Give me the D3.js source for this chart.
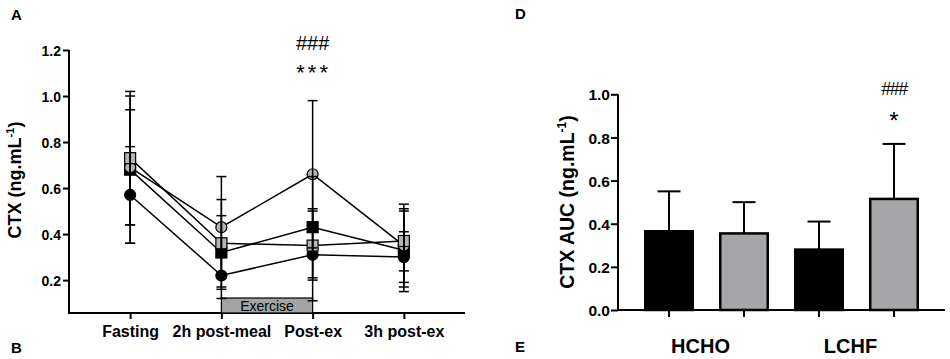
<!DOCTYPE html>
<html>
<head>
<meta charset="utf-8">
<script src="https://cdn.jsdelivr.net/npm/d3@7"></script>
<style>
  body { margin: 0; background: #fff; }
  svg { font-family: "Liberation Sans", Arial, sans-serif; }
</style>
</head>
<body>
<svg id="chart" width="950" height="359"></svg>
<script>
// ---- data ----
var timepoints = ["Fasting", "2h post-meal", "Post-ex", "3h post-ex"];
var yTicksA = [0.2, 0.4, 0.6, 0.8, 1.0, 1.2];

var blackCircleMean = [0.57, 0.22, 0.31, 0.30];
var blackCircleSd   = [0.21, 0.10, 0.20, 0.11];
var blackSquareMean = [0.68, 0.32, 0.43, 0.33];
var blackSquareSd   = [0.32, 0.16, 0.22, 0.18];
var grayCircleMean  = [0.69, 0.43, 0.66, 0.35];
var grayCircleSd    = [0.25, 0.22, 0.32, 0.18];
var graySquareMean  = [0.73, 0.36, 0.35, 0.37];
var graySquareSd    = [0.29, 0.19, 0.15, 0.13];

var groups = ["HCHO", "LCHF"];
var barKeys = ["HCHO-a", "HCHO-b", "LCHF-a", "LCHF-b"];
var barValues = [0.365, 0.355, 0.28, 0.515];
var barUpper  = [0.55, 0.50, 0.41, 0.77];
var yTicksD = [0.0, 0.2, 0.4, 0.6, 0.8, 1.0];

var svg = d3.select("#chart");
var gray = "#b4b4b6";
var barGray = "#a6a6a9";

// panel letters
[["A", 11, 20], ["B", 11, 353], ["D", 515, 19], ["E", 515, 352]].forEach(function(p) {
	svg.append("text").attr("x", p[1]).attr("y", p[2])
		.style("font-size", "15px").style("font-weight", "bold").text(p[0]);
});

// ================= panel A =================
var xA = d3.scalePoint().domain(timepoints).range([69, 465]).padding(0.67);
var yA = d3.scaleLinear().domain([0.057, 1.2]).range([313, 50]);

var gA = svg.append("g");

var yAxisA = d3.axisLeft(yA).tickValues(yTicksA).tickSize(6).tickFormat(d3.format(".1f"));
var ay = gA.append("g").attr("transform", "translate(69,0)").call(yAxisA);
ay.select(".domain").remove();
ay.append("line").attr("x1", 0).attr("x2", 0).attr("y1", yA(1.2)).attr("y2", 313)
	.attr("stroke", "#000").attr("stroke-width", 2);
ay.selectAll(".tick line").attr("stroke-width", 2);
ay.selectAll(".tick text").attr("x", -8).attr("dy", "0.36em")
	.style("font-size", "14px").style("font-weight", "bold").attr("fill", "#000");

var xAxisA = d3.axisBottom(xA).tickSize(6).tickSizeOuter(0);
var ax = gA.append("g").attr("transform", "translate(0,313)").call(xAxisA);
ax.select(".domain").remove();
ax.append("line").attr("x1", 68).attr("x2", 465).attr("y1", 0).attr("y2", 0)
	.attr("stroke", "#000").attr("stroke-width", 2);
ax.selectAll(".tick line").attr("stroke-width", 2);
ax.selectAll(".tick text").attr("y", 13).attr("dy", "0.71em")
	.style("font-size", "16px").style("font-weight", "bold").attr("fill", "#000");

gA.append("text")
	.attr("transform", "translate(21,180)rotate(-90)")
	.attr("text-anchor", "middle")
	.style("font-size", "18px").style("font-weight", "bold")
	.html('CTX (ng.mL<tspan dy="-7" style="font-size:11px">-1</tspan><tspan dy="7">)</tspan>');

// exercise box
var exX0 = xA("2h post-meal"), exX1 = xA("Post-ex");
gA.append("rect").attr("x", exX0).attr("y", 298).attr("width", exX1 - exX0).attr("height", 15)
	.attr("fill", "#a3a3a5").attr("stroke", "#000").attr("stroke-width", 1.2);
gA.append("text").attr("x", (exX0 + exX1) / 2).attr("y", 310.5).attr("text-anchor", "middle")
	.style("font-size", "14px").text("Exercise");

var seriesA = [
	{ mean: blackCircleMean, sd: blackCircleSd, shape: "circle", fill: "#000" },
	{ mean: blackSquareMean, sd: blackSquareSd, shape: "square", fill: "#000" },
	{ mean: grayCircleMean,  sd: grayCircleSd,  shape: "circle", fill: gray },
	{ mean: graySquareMean,  sd: graySquareSd,  shape: "square", fill: gray }
];

var line = d3.line().x(function(d, i) { return xA(timepoints[i]); }).y(function(d) { return yA(d); });

seriesA.forEach(function(s) {
	gA.append("path").attr("d", line(s.mean)).attr("fill", "none")
		.attr("stroke", "#000").attr("stroke-width", 1.5);
});

seriesA.forEach(function(s) {
	s.mean.forEach(function(m, i) {
		var cx = xA(timepoints[i]), cy = yA(m);
		if (s.shape === "circle") {
			gA.append("circle").attr("cx", cx).attr("cy", cy).attr("r", 5.5)
				.attr("fill", s.fill).attr("stroke", "#000").attr("stroke-width", 1.2);
		} else {
			gA.append("rect").attr("x", cx - 5.5).attr("y", cy - 5.5).attr("width", 11).attr("height", 11)
				.attr("fill", s.fill).attr("stroke", "#000").attr("stroke-width", 1.2);
		}
	});
});

// error bars on top
seriesA.forEach(function(s) {
	s.mean.forEach(function(m, i) {
		var cx = xA(timepoints[i]);
		var hi = yA(m + s.sd[i]), lo = yA(m - s.sd[i]);
		gA.append("line").attr("x1", cx).attr("x2", cx).attr("y1", hi).attr("y2", lo)
			.attr("stroke", "#000").attr("stroke-width", 1.5);
		[hi, lo].forEach(function(y) {
			gA.append("line").attr("x1", cx - 5).attr("x2", cx + 5).attr("y1", y).attr("y2", y)
				.attr("stroke", "#000").attr("stroke-width", 1.5);
		});
	});
});

gA.append("text").attr("x", xA("Post-ex")).attr("y", 50).attr("text-anchor", "middle")
	.style("font-size", "20px").text("###");
gA.append("text").attr("x", xA("Post-ex") + 1).attr("y", 80).attr("text-anchor", "middle")
	.style("font-size", "22px").style("letter-spacing", "3px").text("***");

// ================= panel D =================
var xD = d3.scaleBand().domain(barKeys).range([618, 945]).paddingInner(0.34).paddingOuter(0.35);
var yD = d3.scaleLinear().domain([0, 1]).range([310, 94.3]);
var gD = svg.append("g");

var yAxisD = d3.axisLeft(yD).tickValues(yTicksD).tickSize(7).tickFormat(d3.format(".1f"));
var dy = gD.append("g").attr("transform", "translate(618,0)").call(yAxisD);
dy.select(".domain").remove();
dy.append("line").attr("x1", 0).attr("x2", 0).attr("y1", yD(1)).attr("y2", 310)
	.attr("stroke", "#000").attr("stroke-width", 2);
dy.selectAll(".tick line").attr("stroke-width", 2);
dy.selectAll(".tick text").attr("x", -8).attr("dy", "0.36em")
	.style("font-size", "15.5px").style("font-weight", "bold").attr("fill", "#000");

var xAxisD = d3.axisBottom(xD).tickSize(7).tickFormat("");
var dx = gD.append("g").attr("transform", "translate(0,310)").call(xAxisD);
dx.select(".domain").remove();
dx.append("line").attr("x1", 617).attr("x2", 945).attr("y1", 0).attr("y2", 0)
	.attr("stroke", "#000").attr("stroke-width", 2);
dx.selectAll(".tick line").attr("stroke-width", 2);

gD.append("text")
	.attr("transform", "translate(574,202)rotate(-90)")
	.attr("text-anchor", "middle")
	.style("font-size", "19.5px").style("font-weight", "bold")
	.html('CTX AUC (ng.mL<tspan dy="-8" style="font-size:12px">-1</tspan><tspan dy="8">)</tspan>');

barValues.forEach(function(v, i) {
	var x = xD(barKeys[i]), w = xD.bandwidth(), cx = x + w / 2;
	gD.append("line").attr("x1", cx).attr("x2", cx).attr("y1", yD(v)).attr("y2", yD(barUpper[i]))
		.attr("stroke", "#000").attr("stroke-width", 2);
	gD.append("line").attr("x1", cx - 11.5).attr("x2", cx + 11.5).attr("y1", yD(barUpper[i])).attr("y2", yD(barUpper[i]))
		.attr("stroke", "#000").attr("stroke-width", 2);
	gD.append("rect").attr("x", x + 1).attr("y", yD(v)).attr("width", w - 2).attr("height", 310 - yD(v))
		.attr("fill", i % 2 === 0 ? "#000" : barGray).attr("stroke", "#000").attr("stroke-width", 2.5);
});

groups.forEach(function(g, i) {
	var a = xD(barKeys[i * 2]), b = xD(barKeys[i * 2 + 1]) + xD.bandwidth();
	gD.append("text").attr("x", (a + b) / 2 - 6).attr("y", 353).attr("text-anchor", "middle")
		.style("font-size", "20px").style("font-weight", "bold").text(g);
});

var cx4 = xD(barKeys[3]) + xD.bandwidth() / 2;
gD.append("text").attr("x", cx4).attr("y", 95).attr("text-anchor", "middle")
	.style("font-size", "18px").style("letter-spacing", "-1.5px").text("###");
gD.append("text").attr("x", cx4).attr("y", 129).attr("text-anchor", "middle")
	.style("font-size", "24px").text("*");
</script>
</body>
</html>
